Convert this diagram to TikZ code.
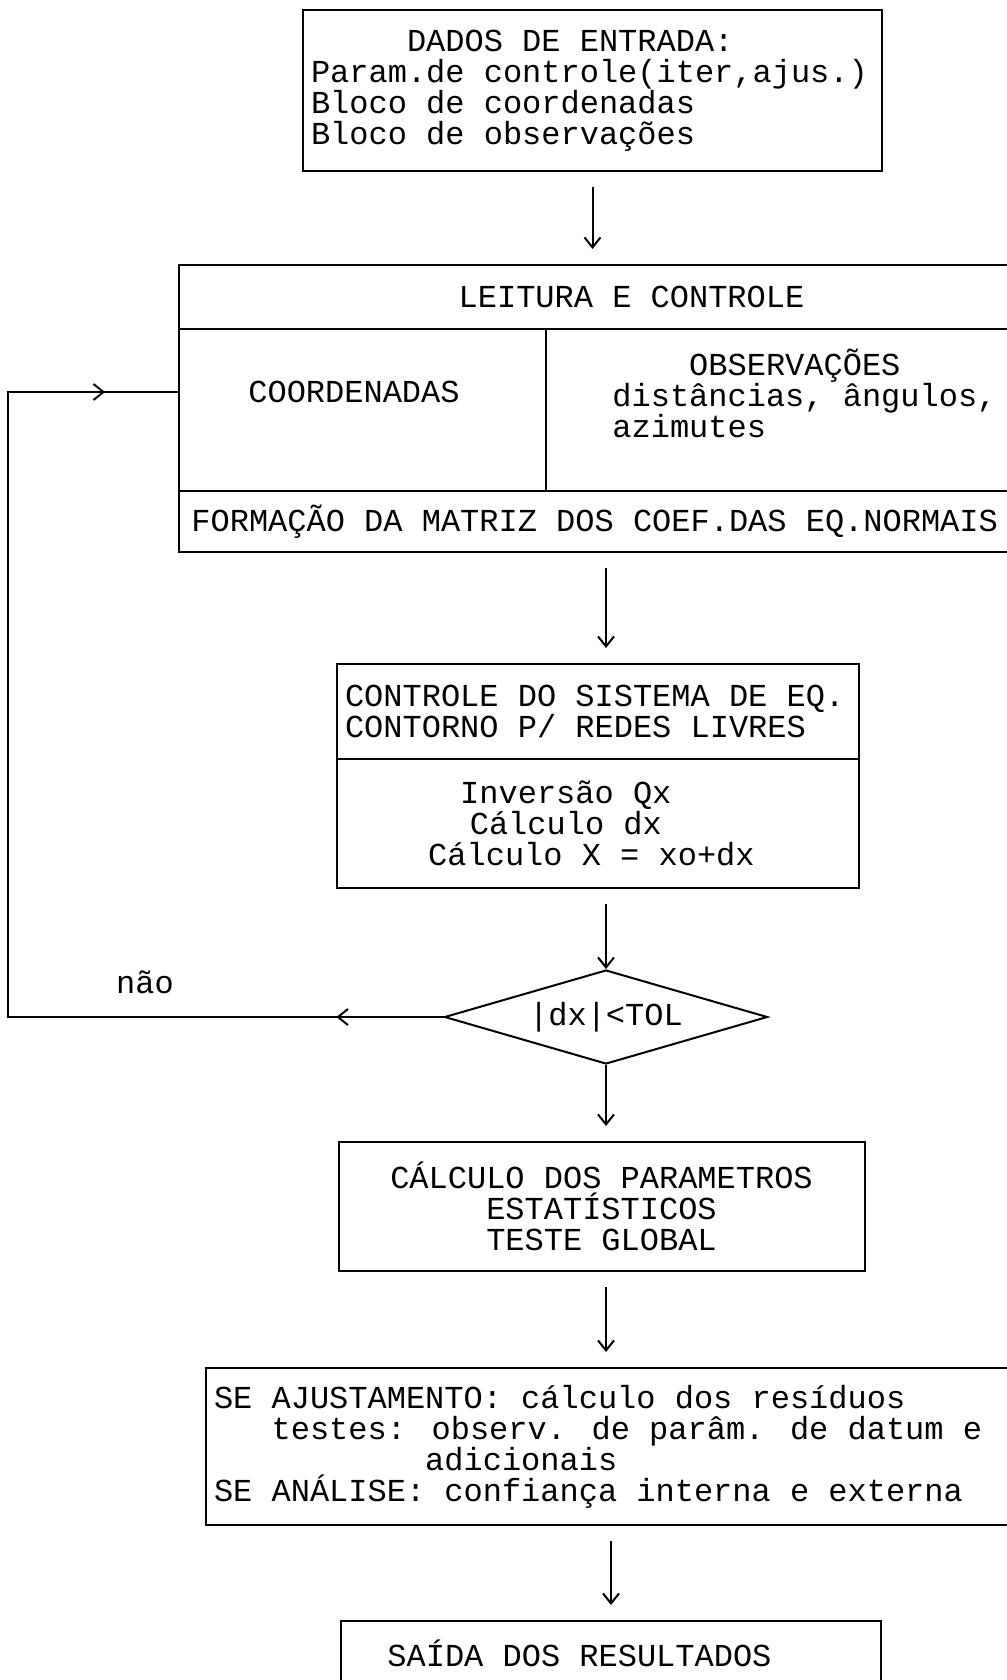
\documentclass[tikz,border=0pt]{standalone}
\usepackage{fontspec}
\newfontfamily\maquina{Liberation Mono}
\newcommand\letra{\maquina\fontsize{16}{15.5}\selectfont}
\usepackage{tikz}
\usetikzlibrary{arrows.meta}
\usetikzlibrary{shapes.geometric}
\usetikzlibrary{decorations.markings}
\tikzset{>={Straight Barb[length=5pt,width=8pt]}}
\tikzset{
  caixa/.style={
    draw, line width=1pt, inner sep=4pt, outer sep=0pt,
    align=flush left, font=\letra
  }}
\tikzset{
  celula/.style={draw, line width=1pt, inner sep=0pt, outer sep=0pt}}
\tikzset{
  texto/.style={inner sep=0pt, align=left, font=\letra}}
\tikzset{
  fluxo/.style={->, line width=1pt, shorten <=8pt, shorten >=8pt}}
\tikzset{
  loop arrows/.style={
    postaction={
      decorate,
      decoration={
        markings,
        mark=at position 0.087 with {\arrow{>}},
        mark=at position 0.94 with {\arrow{>}},
   }}}}

\begin{document}
\begin{tikzpicture}[x=0.5pt,y=-0.5pt]
    \useasboundingbox (0,0) rectangle (1006,1680);
    % entrada
    \node[caixa, text width=281.5pt, minimum height=80.5pt] (entrada) at (592.5,90.5)
        {\phantom{xxxxx}DADOS DE ENTRADA:\\Param.de controle(iter,ajus.)\\Bloco de coordenadas\\Bloco de observações};
    % leitura e controle, em celulas
    \node[celula, minimum width=418pt, minimum height=32pt] (leitura) at (597,297) {};
    \node[celula, minimum width=183.5pt, minimum height=81pt] (coord) at (362.5,410) {};
    \node[celula, minimum width=234.5pt, minimum height=81pt] (obs) at (780.5,410) {};
    \node[celula, minimum width=418pt, minimum height=30.5pt] (formacao) at (597,521.5) {};
    \node[texto] (t-leitura) at (631.5,297) {LEITURA E CONTROLE};
    \node[texto] (t-coord) at (354,392) {COORDENADAS};
    \node[texto, anchor=west] (t-obs) at (612,393)
        {\phantom{xxxx}OBSERVAÇÕES\\distâncias, ângulos,\\azimutes};
    \node[texto, anchor=west] (t-formacao) at (191,521.5) {FORMAÇÃO DA MATRIZ DOS COEF.DAS EQ.NORMAIS};
    % sistema
    \node[caixa, text width=253pt, minimum height=47.25pt] (controle) at (598,711.25)
        {CONTROLE DO SISTEMA DE EQ.\\CONTORNO P/ REDES LIVRES};
    \node[caixa, text width=253pt, minimum height=64.75pt] (calculo) at (598,823.25)
        {\hspace*{3.6em}Inversão Qx\\\hspace*{3.9em}Cálculo dx\\\hspace*{2.6em}Cálculo X = xo+dx};
    \node[diamond, draw, line width=1pt, inner sep=0pt, aspect=3.4,
        minimum width=161.5pt, minimum height=47pt, font=\letra] (decisao) at (606,1017) {|dx|<TOL};
    \node[caixa, align=center, minimum width=263pt, minimum height=64.5pt] (estat) at (601.5,1206.5)
        {CÁLCULO DOS PARAMETROS\\ESTATÍSTICOS\\TESTE GLOBAL};
    \node[caixa, text width=396.5pt, minimum height=78.5pt] (analise) at (610.5,1446.5)
        {SE AJUSTAMENTO: cálculo dos resíduos\\\hspace*{1.8em}testes: observ. de parâm. de datum e\\\hspace*{6.6em}adicionais\\SE ANÁLISE: confiança interna e externa};
    \node[caixa, text width=262pt, minimum height=32pt] (saida) at (611,1653)
        {\hspace*{1.2em}SAÍDA DOS RESULTADOS};
    \node[texto] (nao) at (145,982) {não};
    \coordinate (retorno) at (8,392);

    \draw[fluxo] (entrada.south) -- (entrada.south |- leitura.north);
    \draw[fluxo] (formacao.south -| decisao) -- (controle.north -| decisao);
    \draw[fluxo, shorten >=0pt] (calculo.south -| decisao) -- (decisao.north);
    \draw[fluxo, shorten <=0pt] (decisao.south) -- (estat.north -| decisao);
    \draw[fluxo] (estat.south -| decisao) -- (analise.north -| decisao);
    \draw[fluxo] (analise.south -| saida) -- (saida.north);
    % volta se nao convergiu
    \draw[line width=1pt, loop arrows] (decisao.west) -| (retorno) -- (retorno -| coord.west);
\end{tikzpicture}
\end{document}
